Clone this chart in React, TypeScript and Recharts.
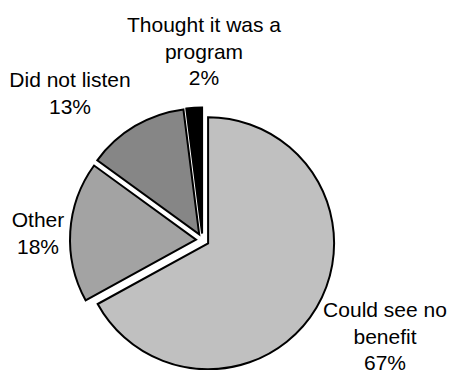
import { Pie, PieChart, Sector } from "recharts";

const SLICE_NAMES = ["Could see no benefit", "Other", "Did not listen", "Thought it was a program"];
const SLICE_VALUES = [67, 18, 13, 2];
const SLICE_LINES = [["Could see no", "benefit"], ["Other"], ["Did not listen"], ["Thought it was a", "program"]];
const SLICE_COLORS = ["#c0c0c0", "#a3a3a3", "#868686", "#000000"];

// label block anchor, relative to the pie centre (x centre, first baseline)
const LABEL_ANCHORS = [
  { dx: 182.5, dy: 77 },
  { dx: -164.5, dy: -13 },
  { dx: -132.5, dy: -153 },
  { dx: 1.5, dy: -208 },
];

const EXPLODE = 6.5;
const RAD = Math.PI / 180;
const LINE_HEIGHT = 26.5;

const data = SLICE_NAMES.map((name, i) => ({
  name,
  value: SLICE_VALUES[i],
  fill: SLICE_COLORS[i],
}));

function ExplodedSector(props: any) {
  const dx = EXPLODE * Math.cos(-props.midAngle * RAD);
  const dy = EXPLODE * Math.sin(-props.midAngle * RAD);
  return <Sector {...props} cx={props.cx + dx} cy={props.cy + dy} />;
}

function SliceLabel(props: any) {
  const { cx, cy, index, percent } = props;
  const anchor = LABEL_ANCHORS[index];
  const lines = [...SLICE_LINES[index], `${Math.round(percent * 100)}%`];
  return (
    <text
      x={cx + anchor.dx}
      y={cy + anchor.dy}
      textAnchor="middle"
      fill="#000"
      fontSize={21}
      fontFamily="'Liberation Sans', Arial, sans-serif"
    >
      {lines.map((line, i) => (
        <tspan key={i} x={cx + anchor.dx} dy={i === 0 ? 0 : LINE_HEIGHT}>
          {line}
        </tspan>
      ))}
    </text>
  );
}

export default function App() {
  return (
    <div style={{ position: "absolute", left: 0, top: 0, width: 451, height: 370, background: "#fff" }}>
      <PieChart width={451} height={370} margin={{ top: 0, right: 0, bottom: 0, left: 0 }}>
        <Pie
          data={data}
          dataKey="value"
          nameKey="name"
          cx={202.5}
          cy={240}
          outerRadius={126}
          startAngle={90}
          endAngle={-270}
          stroke="#000"
          strokeWidth={2}
          shape={ExplodedSector}
          label={SliceLabel}
          labelLine={false}
          isAnimationActive={false}
        />
      </PieChart>
    </div>
  );
}
